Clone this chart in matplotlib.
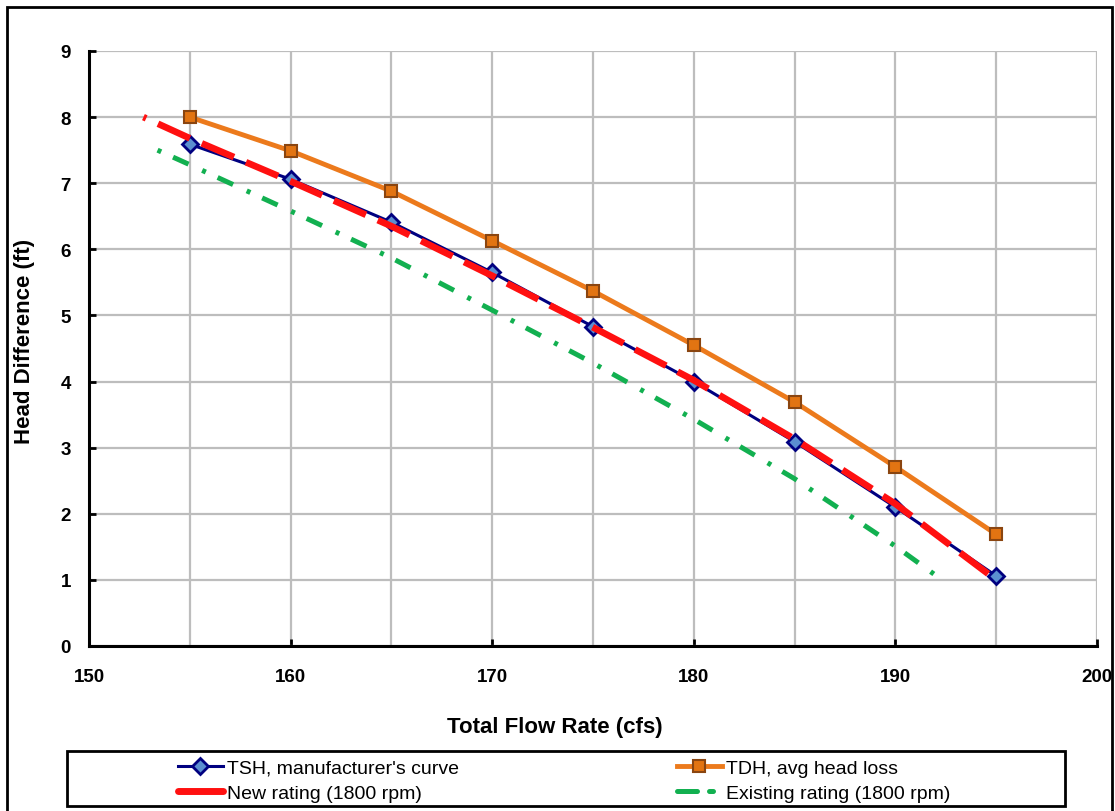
import matplotlib
matplotlib.use('Agg')
import matplotlib.pyplot as plt
from matplotlib import font_manager
from matplotlib.lines import Line2D
from matplotlib.patches import Rectangle
from matplotlib.ticker import MultipleLocator

# data
flow = [155, 160, 165, 170, 175, 180, 185, 190, 195]
tsh = [7.59, 7.06, 6.41, 5.65, 4.83, 4.0, 3.09, 2.10, 1.06]
tdh = [8.0, 7.49, 6.88, 6.13, 5.37, 4.55, 3.69, 2.71, 1.69]

new_flow = [152.7, 155, 160, 165, 170, 175, 180, 185, 190, 195]
new_head = [8.0, 7.68, 7.03, 6.35, 5.6, 4.82, 4.02, 3.13, 2.15, 1.0]

old_flow = [153.4, 155, 160, 165, 170, 175, 180, 185, 190, 192.4]
old_head = [7.5, 7.28, 6.58, 5.87, 5.08, 4.28, 3.43, 2.53, 1.51, 0.98]

labels = ["TSH, manufacturer's curve", "TDH, avg head loss",
          "New rating (1800 rpm)", "Existing rating (1800 rpm)"]

W, H = 1115, 812
def fx(px): return px / W
def fy(py): return 1 - py / H

plt.rcParams['font.family'] = ['Liberation Sans', 'DejaVu Sans']
names = {f.name for f in font_manager.fontManager.ttflist}
if 'Liberation Sans Narrow' in names:
    leg_font, leg_size = 'Liberation Sans Narrow', 16
else:
    leg_font, leg_size = 'Liberation Sans', 14

fig = plt.figure(figsize=(W / 100, H / 100), dpi=100)
ax = fig.add_axes([fx(89), fy(647), (1097 - 89) / W, (647 - 52) / H])

l_tsh, = ax.plot(flow, tsh, color='#000080', lw=2.2, marker='D', ms=8,
                 mfc='#5b8fd0', mec='#000080', mew=2, zorder=5)
l_tdh, = ax.plot(flow, tdh, color='#ec7a1c', lw=3.5, marker='s', ms=8.5,
                 mfc='#e27412', mec='#8a4510', mew=1.5, zorder=4)
ax.plot(new_flow, new_head, color='#ff1010', lw=4.8,
        ls=(4.8, (5.25, 1.95)), zorder=6)
ax.plot(old_flow, old_head, color='#12b050', lw=3.6,
        ls=(0, (0.8, 2.6, 3.4, 3.0)), zorder=3)

# legend keys for the two rating lines
h_new = Line2D([], [], color='#ff1010', lw=5, solid_capstyle='round')
h_old = Line2D([], [], color='#12b050', lw=3.6, ls=(0, (4, 2.4, 0.8, 4)),
               dash_capstyle='round')

ax.set_xlim(150, 200)
ax.set_ylim(0, 9)
ax.set_xticks(range(150, 201, 10))
ax.xaxis.set_minor_locator(MultipleLocator(5))
ax.set_yticks(range(0, 10))
ax.grid(True, which='both', color='#bdbdbd', lw=1.6)
ax.set_axisbelow(True)
for s in ['top', 'right']:
    ax.spines[s].set_visible(False)
for s in ['left', 'bottom']:
    ax.spines[s].set_linewidth(2.2)
ax.tick_params(which='major', labelsize=13.5, width=2, length=5, direction='in')
ax.tick_params(which='minor', length=0)
ax.tick_params(axis='x', pad=16)
ax.tick_params(axis='y', pad=13)
for t in ax.get_xticklabels() + ax.get_yticklabels():
    t.set_fontweight('bold')

fig.text(fx(555), fy(733), 'Total Flow Rate (cfs)', fontsize=16,
         fontweight='bold', ha='center', va='baseline')
fig.text(fx(25), fy(341), 'Head Difference (ft)', fontsize=16,
         fontweight='bold', rotation=90, ha='center', va='center')

# legend: two columns placed separately, frame drawn as a patch
leg_kw = dict(frameon=False, borderpad=0, borderaxespad=0, loc='upper left',
              handlelength=2.3, handletextpad=0.2, labelspacing=0.38,
              prop={'family': leg_font, 'size': leg_size})
leg1 = fig.legend([l_tsh, h_new], [labels[0], labels[2]],
                  bbox_to_anchor=(fx(178), fy(760)), **leg_kw)
leg2 = fig.legend([l_tdh, h_old], [labels[1], labels[3]],
                  bbox_to_anchor=(fx(677), fy(760)), **leg_kw)

fig.patches.append(Rectangle((fx(67), fy(807)), (1065 - 67) / W, 55 / H,
                             transform=fig.transFigure, fill=False,
                             edgecolor='black', lw=2))
fig.patches.append(Rectangle((fx(7), fy(818)), (1112 - 7) / W, 810 / H,
                             transform=fig.transFigure, fill=False,
                             edgecolor='black', lw=2))

fig.savefig('out.png', dpi=100)
